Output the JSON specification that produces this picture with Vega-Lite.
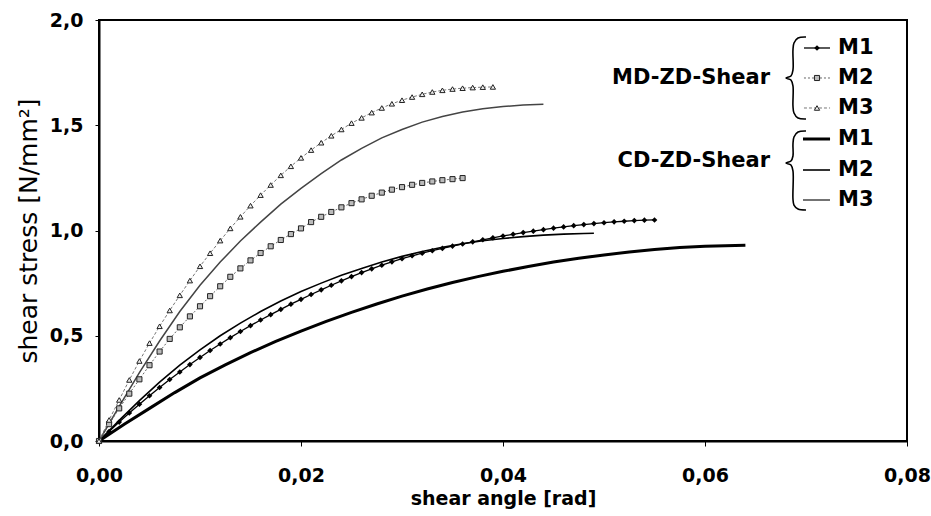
{
 "$schema": "https://vega.github.io/schema/vega-lite/v6.json",
 "width": 808, "height": 421,
 "autosize": {"type": "none"},
 "padding": {"left": 99, "top": 20, "right": 24, "bottom": 75},
 "background": "white",
 "config": {
  "view": {"stroke": "black", "strokeWidth": 2},
  "axis": {"labelFont": "DejaVu Sans", "labelFontWeight": "bold", "labelFontSize": 19, "labelColor": "black",
           "titleFont": "DejaVu Sans", "titleFontWeight": "bold", "titleFontSize": 19, "titleColor": "black",
           "grid": false, "domainColor": "black", "domainWidth": 2, "tickColor": "black", "tickWidth": 1}
 },
 "datasets": {
  "curves": [
   {"s":"MD-M1","p":"c","x":0,"y":0},{"s":"MD-M1","p":"c","x":0.001,"y":0.045},{"s":"MD-M1","p":"c","x":0.002,"y":0.09},{"s":"MD-M1","p":"c","x":0.003,"y":0.133},{"s":"MD-M1","p":"c","x":0.004,"y":0.175},{"s":"MD-M1","p":"c","x":0.005,"y":0.215},{"s":"MD-M1","p":"c","x":0.006,"y":0.254},{"s":"MD-M1","p":"c","x":0.007,"y":0.292},{"s":"MD-M1","p":"c","x":0.008,"y":0.328},{"s":"MD-M1","p":"c","x":0.009,"y":0.363},{"s":"MD-M1","p":"c","x":0.010,"y":0.397},{"s":"MD-M1","p":"c","x":0.011,"y":0.43},{"s":"MD-M1","p":"c","x":0.012,"y":0.461},{"s":"MD-M1","p":"c","x":0.013,"y":0.491},{"s":"MD-M1","p":"c","x":0.014,"y":0.52},{"s":"MD-M1","p":"c","x":0.015,"y":0.548},{"s":"MD-M1","p":"c","x":0.016,"y":0.575},{"s":"MD-M1","p":"c","x":0.017,"y":0.6},{"s":"MD-M1","p":"c","x":0.018,"y":0.625},{"s":"MD-M1","p":"c","x":0.019,"y":0.65},{"s":"MD-M1","p":"c","x":0.020,"y":0.673},{"s":"MD-M1","p":"c","x":0.021,"y":0.696},{"s":"MD-M1","p":"c","x":0.022,"y":0.718},{"s":"MD-M1","p":"c","x":0.023,"y":0.74},{"s":"MD-M1","p":"c","x":0.024,"y":0.761},{"s":"MD-M1","p":"c","x":0.025,"y":0.781},{"s":"MD-M1","p":"c","x":0.026,"y":0.8},{"s":"MD-M1","p":"c","x":0.027,"y":0.818},{"s":"MD-M1","p":"c","x":0.028,"y":0.835},{"s":"MD-M1","p":"c","x":0.029,"y":0.851},{"s":"MD-M1","p":"c","x":0.030,"y":0.866},{"s":"MD-M1","p":"c","x":0.031,"y":0.88},{"s":"MD-M1","p":"c","x":0.032,"y":0.892},{"s":"MD-M1","p":"c","x":0.033,"y":0.904},{"s":"MD-M1","p":"c","x":0.034,"y":0.915},{"s":"MD-M1","p":"c","x":0.035,"y":0.926},{"s":"MD-M1","p":"c","x":0.036,"y":0.936},{"s":"MD-M1","p":"c","x":0.037,"y":0.946},{"s":"MD-M1","p":"c","x":0.038,"y":0.956},{"s":"MD-M1","p":"c","x":0.039,"y":0.965},{"s":"MD-M1","p":"c","x":0.040,"y":0.974},{"s":"MD-M1","p":"c","x":0.041,"y":0.982},{"s":"MD-M1","p":"c","x":0.042,"y":0.99},{"s":"MD-M1","p":"c","x":0.043,"y":0.997},{"s":"MD-M1","p":"c","x":0.044,"y":1.004},{"s":"MD-M1","p":"c","x":0.045,"y":1.011},{"s":"MD-M1","p":"c","x":0.046,"y":1.017},{"s":"MD-M1","p":"c","x":0.047,"y":1.023},{"s":"MD-M1","p":"c","x":0.048,"y":1.028},{"s":"MD-M1","p":"c","x":0.049,"y":1.033},{"s":"MD-M1","p":"c","x":0.050,"y":1.037},{"s":"MD-M1","p":"c","x":0.051,"y":1.041},{"s":"MD-M1","p":"c","x":0.052,"y":1.044},{"s":"MD-M1","p":"c","x":0.053,"y":1.047},{"s":"MD-M1","p":"c","x":0.054,"y":1.049},{"s":"MD-M1","p":"c","x":0.055,"y":1.05},

   {"s":"MD-M2","p":"c","x":0,"y":0},{"s":"MD-M2","p":"c","x":0.001,"y":0.08},{"s":"MD-M2","p":"c","x":0.002,"y":0.155},{"s":"MD-M2","p":"c","x":0.003,"y":0.225},{"s":"MD-M2","p":"c","x":0.004,"y":0.293},{"s":"MD-M2","p":"c","x":0.005,"y":0.36},{"s":"MD-M2","p":"c","x":0.006,"y":0.425},{"s":"MD-M2","p":"c","x":0.007,"y":0.485},{"s":"MD-M2","p":"c","x":0.008,"y":0.54},{"s":"MD-M2","p":"c","x":0.009,"y":0.592},{"s":"MD-M2","p":"c","x":0.010,"y":0.64},{"s":"MD-M2","p":"c","x":0.011,"y":0.688},{"s":"MD-M2","p":"c","x":0.012,"y":0.735},{"s":"MD-M2","p":"c","x":0.013,"y":0.78},{"s":"MD-M2","p":"c","x":0.014,"y":0.82},{"s":"MD-M2","p":"c","x":0.015,"y":0.858},{"s":"MD-M2","p":"c","x":0.016,"y":0.893},{"s":"MD-M2","p":"c","x":0.017,"y":0.925},{"s":"MD-M2","p":"c","x":0.018,"y":0.955},{"s":"MD-M2","p":"c","x":0.019,"y":0.983},{"s":"MD-M2","p":"c","x":0.020,"y":1.01},{"s":"MD-M2","p":"c","x":0.021,"y":1.04},{"s":"MD-M2","p":"c","x":0.022,"y":1.065},{"s":"MD-M2","p":"c","x":0.023,"y":1.088},{"s":"MD-M2","p":"c","x":0.024,"y":1.11},{"s":"MD-M2","p":"c","x":0.025,"y":1.13},{"s":"MD-M2","p":"c","x":0.026,"y":1.148},{"s":"MD-M2","p":"c","x":0.027,"y":1.165},{"s":"MD-M2","p":"c","x":0.028,"y":1.18},{"s":"MD-M2","p":"c","x":0.029,"y":1.194},{"s":"MD-M2","p":"c","x":0.030,"y":1.206},{"s":"MD-M2","p":"c","x":0.031,"y":1.217},{"s":"MD-M2","p":"c","x":0.032,"y":1.226},{"s":"MD-M2","p":"c","x":0.033,"y":1.233},{"s":"MD-M2","p":"c","x":0.034,"y":1.239},{"s":"MD-M2","p":"c","x":0.035,"y":1.244},{"s":"MD-M2","p":"c","x":0.036,"y":1.249},

   {"s":"MD-M3","p":"c","x":0,"y":0},{"s":"MD-M3","p":"c","x":0.001,"y":0.1},{"s":"MD-M3","p":"c","x":0.002,"y":0.195},{"s":"MD-M3","p":"c","x":0.003,"y":0.29},{"s":"MD-M3","p":"c","x":0.004,"y":0.38},{"s":"MD-M3","p":"c","x":0.005,"y":0.465},{"s":"MD-M3","p":"c","x":0.006,"y":0.545},{"s":"MD-M3","p":"c","x":0.007,"y":0.62},{"s":"MD-M3","p":"c","x":0.008,"y":0.692},{"s":"MD-M3","p":"c","x":0.009,"y":0.762},{"s":"MD-M3","p":"c","x":0.010,"y":0.83},{"s":"MD-M3","p":"c","x":0.011,"y":0.892},{"s":"MD-M3","p":"c","x":0.012,"y":0.952},{"s":"MD-M3","p":"c","x":0.013,"y":1.01},{"s":"MD-M3","p":"c","x":0.014,"y":1.065},{"s":"MD-M3","p":"c","x":0.015,"y":1.118},{"s":"MD-M3","p":"c","x":0.016,"y":1.168},{"s":"MD-M3","p":"c","x":0.017,"y":1.216},{"s":"MD-M3","p":"c","x":0.018,"y":1.262},{"s":"MD-M3","p":"c","x":0.019,"y":1.305},{"s":"MD-M3","p":"c","x":0.020,"y":1.345},{"s":"MD-M3","p":"c","x":0.021,"y":1.382},{"s":"MD-M3","p":"c","x":0.022,"y":1.417},{"s":"MD-M3","p":"c","x":0.023,"y":1.45},{"s":"MD-M3","p":"c","x":0.024,"y":1.48},{"s":"MD-M3","p":"c","x":0.025,"y":1.51},{"s":"MD-M3","p":"c","x":0.026,"y":1.535},{"s":"MD-M3","p":"c","x":0.027,"y":1.56},{"s":"MD-M3","p":"c","x":0.028,"y":1.582},{"s":"MD-M3","p":"c","x":0.029,"y":1.602},{"s":"MD-M3","p":"c","x":0.030,"y":1.619},{"s":"MD-M3","p":"c","x":0.031,"y":1.634},{"s":"MD-M3","p":"c","x":0.032,"y":1.647},{"s":"MD-M3","p":"c","x":0.033,"y":1.658},{"s":"MD-M3","p":"c","x":0.034,"y":1.666},{"s":"MD-M3","p":"c","x":0.035,"y":1.672},{"s":"MD-M3","p":"c","x":0.036,"y":1.676},{"s":"MD-M3","p":"c","x":0.037,"y":1.679},{"s":"MD-M3","p":"c","x":0.038,"y":1.681},{"s":"MD-M3","p":"c","x":0.039,"y":1.682},

   {"s":"CD-M1","p":"c","x":0,"y":0},{"s":"CD-M1","p":"c","x":0.0025,"y":0.08},{"s":"CD-M1","p":"c","x":0.005,"y":0.155},{"s":"CD-M1","p":"c","x":0.0075,"y":0.23},{"s":"CD-M1","p":"c","x":0.01,"y":0.3},{"s":"CD-M1","p":"c","x":0.0125,"y":0.362},{"s":"CD-M1","p":"c","x":0.015,"y":0.42},{"s":"CD-M1","p":"c","x":0.0175,"y":0.473},{"s":"CD-M1","p":"c","x":0.02,"y":0.522},{"s":"CD-M1","p":"c","x":0.0225,"y":0.568},{"s":"CD-M1","p":"c","x":0.025,"y":0.611},{"s":"CD-M1","p":"c","x":0.0275,"y":0.651},{"s":"CD-M1","p":"c","x":0.03,"y":0.688},{"s":"CD-M1","p":"c","x":0.0325,"y":0.722},{"s":"CD-M1","p":"c","x":0.035,"y":0.753},{"s":"CD-M1","p":"c","x":0.0375,"y":0.781},{"s":"CD-M1","p":"c","x":0.04,"y":0.806},{"s":"CD-M1","p":"c","x":0.0425,"y":0.829},{"s":"CD-M1","p":"c","x":0.045,"y":0.85},{"s":"CD-M1","p":"c","x":0.0475,"y":0.868},{"s":"CD-M1","p":"c","x":0.05,"y":0.884},{"s":"CD-M1","p":"c","x":0.0525,"y":0.898},{"s":"CD-M1","p":"c","x":0.055,"y":0.91},{"s":"CD-M1","p":"c","x":0.0575,"y":0.919},{"s":"CD-M1","p":"c","x":0.06,"y":0.925},{"s":"CD-M1","p":"c","x":0.062,"y":0.928},{"s":"CD-M1","p":"c","x":0.064,"y":0.93},

   {"s":"CD-M2","p":"c","x":0,"y":0},{"s":"CD-M2","p":"c","x":0.002,"y":0.098},{"s":"CD-M2","p":"c","x":0.004,"y":0.192},{"s":"CD-M2","p":"c","x":0.006,"y":0.28},{"s":"CD-M2","p":"c","x":0.008,"y":0.36},{"s":"CD-M2","p":"c","x":0.01,"y":0.433},{"s":"CD-M2","p":"c","x":0.012,"y":0.5},{"s":"CD-M2","p":"c","x":0.014,"y":0.56},{"s":"CD-M2","p":"c","x":0.016,"y":0.615},{"s":"CD-M2","p":"c","x":0.018,"y":0.665},{"s":"CD-M2","p":"c","x":0.02,"y":0.71},{"s":"CD-M2","p":"c","x":0.022,"y":0.75},{"s":"CD-M2","p":"c","x":0.024,"y":0.787},{"s":"CD-M2","p":"c","x":0.026,"y":0.82},{"s":"CD-M2","p":"c","x":0.028,"y":0.85},{"s":"CD-M2","p":"c","x":0.03,"y":0.877},{"s":"CD-M2","p":"c","x":0.032,"y":0.9},{"s":"CD-M2","p":"c","x":0.034,"y":0.92},{"s":"CD-M2","p":"c","x":0.036,"y":0.937},{"s":"CD-M2","p":"c","x":0.038,"y":0.951},{"s":"CD-M2","p":"c","x":0.04,"y":0.962},{"s":"CD-M2","p":"c","x":0.042,"y":0.971},{"s":"CD-M2","p":"c","x":0.044,"y":0.978},{"s":"CD-M2","p":"c","x":0.046,"y":0.983},{"s":"CD-M2","p":"c","x":0.048,"y":0.986},{"s":"CD-M2","p":"c","x":0.049,"y":0.987},

   {"s":"CD-M3","p":"c","x":0,"y":0},{"s":"CD-M3","p":"c","x":0.002,"y":0.165},{"s":"CD-M3","p":"c","x":0.004,"y":0.325},{"s":"CD-M3","p":"c","x":0.006,"y":0.475},{"s":"CD-M3","p":"c","x":0.008,"y":0.615},{"s":"CD-M3","p":"c","x":0.01,"y":0.74},{"s":"CD-M3","p":"c","x":0.012,"y":0.85},{"s":"CD-M3","p":"c","x":0.014,"y":0.95},{"s":"CD-M3","p":"c","x":0.016,"y":1.04},{"s":"CD-M3","p":"c","x":0.018,"y":1.125},{"s":"CD-M3","p":"c","x":0.02,"y":1.2},{"s":"CD-M3","p":"c","x":0.022,"y":1.27},{"s":"CD-M3","p":"c","x":0.024,"y":1.335},{"s":"CD-M3","p":"c","x":0.026,"y":1.39},{"s":"CD-M3","p":"c","x":0.028,"y":1.44},{"s":"CD-M3","p":"c","x":0.03,"y":1.48},{"s":"CD-M3","p":"c","x":0.032,"y":1.515},{"s":"CD-M3","p":"c","x":0.034,"y":1.542},{"s":"CD-M3","p":"c","x":0.036,"y":1.563},{"s":"CD-M3","p":"c","x":0.038,"y":1.578},{"s":"CD-M3","p":"c","x":0.04,"y":1.589},{"s":"CD-M3","p":"c","x":0.042,"y":1.596},{"s":"CD-M3","p":"c","x":0.044,"y":1.6},

   {"s":"MD-M1","p":"l","x":0.0698,"y":1.867},{"s":"MD-M1","p":"l","x":0.07238,"y":1.867},{"s":"MD-M1","p":"m","x":0.07109,"y":1.867},
   {"s":"MD-M2","p":"l","x":0.0698,"y":1.7245},{"s":"MD-M2","p":"l","x":0.07238,"y":1.7245},{"s":"MD-M2","p":"m","x":0.07109,"y":1.7245},
   {"s":"MD-M3","p":"l","x":0.0698,"y":1.582},{"s":"MD-M3","p":"l","x":0.07238,"y":1.582},{"s":"MD-M3","p":"m","x":0.07109,"y":1.582},
   {"s":"CD-M1","p":"l","x":0.0697,"y":1.4347},{"s":"CD-M1","p":"l","x":0.07238,"y":1.4347},
   {"s":"CD-M2","p":"l","x":0.0697,"y":1.2874},{"s":"CD-M2","p":"l","x":0.07238,"y":1.2874},
   {"s":"CD-M3","p":"l","x":0.0697,"y":1.1449},{"s":"CD-M3","p":"l","x":0.07238,"y":1.1449}
  ],
  "brace": [
   {"g":1,"o":1,"x":0.0700,"y":1.9192},{"g":1,"o":2,"x":0.06921,"y":1.9145},{"g":1,"o":3,"x":0.06881,"y":1.8907},{"g":1,"o":4,"x":0.06871,"y":1.8575},{"g":1,"o":5,"x":0.06871,"y":1.7625},{"g":1,"o":6,"x":0.06851,"y":1.734},{"g":1,"o":7,"x":0.06802,"y":1.7245},{"g":1,"o":8,"x":0.06851,"y":1.715},{"g":1,"o":9,"x":0.06871,"y":1.6865},{"g":1,"o":10,"x":0.06871,"y":1.5914},{"g":1,"o":11,"x":0.06881,"y":1.5582},{"g":1,"o":12,"x":0.06921,"y":1.5344},{"g":1,"o":13,"x":0.0700,"y":1.5297},
   {"g":2,"o":1,"x":0.0700,"y":1.4727},{"g":2,"o":2,"x":0.06921,"y":1.4679},{"g":2,"o":3,"x":0.06881,"y":1.4442},{"g":2,"o":4,"x":0.06871,"y":1.4109},{"g":2,"o":5,"x":0.06871,"y":1.3539},{"g":2,"o":6,"x":0.06851,"y":1.3302},{"g":2,"o":7,"x":0.06802,"y":1.3207},{"g":2,"o":8,"x":0.06851,"y":1.3112},{"g":2,"o":9,"x":0.06871,"y":1.2827},{"g":2,"o":10,"x":0.06871,"y":1.1496},{"g":2,"o":11,"x":0.06881,"y":1.1211},{"g":2,"o":12,"x":0.06921,"y":1.1021},{"g":2,"o":13,"x":0.0700,"y":1.0974}
  ],
  "labels": [
   {"t":"MD-ZD-Shear","a":"r","x":0.06644,"y":1.7245},
   {"t":"CD-ZD-Shear","a":"r","x":0.06644,"y":1.330},
   {"t":"M1","a":"l","x":0.07317,"y":1.867},
   {"t":"M2","a":"l","x":0.07317,"y":1.7245},
   {"t":"M3","a":"l","x":0.07317,"y":1.582},
   {"t":"M1","a":"l","x":0.07317,"y":1.4347},
   {"t":"M2","a":"l","x":0.07317,"y":1.2874},
   {"t":"M3","a":"l","x":0.07317,"y":1.1449}
  ]
 },
 "encoding": {
  "x": {"field": "x", "type": "quantitative", "scale": {"domain": [0, 0.08], "nice": false},
        "axis": {"values": [0, 0.02, 0.04, 0.06, 0.08], "labelExpr": "replace(format(datum.value, '.2f'), '.', ',')",
                 "title": "shear angle [rad]", "tickSize": 5, "labelPadding": 20, "titlePadding": 4, "labelFlush": false}},
  "y": {"field": "y", "type": "quantitative", "scale": {"domain": [0, 2], "nice": false},
        "axis": {"values": [0, 0.5, 1, 1.5, 2], "labelExpr": "replace(format(datum.value, '.1f'), '.', ',')",
                 "title": "shear stress [N/mm²]", "titleFontWeight": "normal", "titleFontSize": 25,
                 "tickSize": 4, "labelPadding": 12, "titlePadding": 8, "labelFlush": false}}
 },
 "layer": [
  {"data": {"name": "curves"}, "transform": [{"filter": "datum.s == 'CD-M1'"}],
   "mark": {"type": "line", "color": "black", "strokeWidth": 3}, "encoding": {"detail": {"field": "p"}}},
  {"data": {"name": "curves"}, "transform": [{"filter": "datum.s == 'CD-M2'"}],
   "mark": {"type": "line", "color": "black", "strokeWidth": 1.6}, "encoding": {"detail": {"field": "p"}}},
  {"data": {"name": "curves"}, "transform": [{"filter": "datum.s == 'CD-M3'"}],
   "mark": {"type": "line", "color": "#444", "strokeWidth": 1.5}, "encoding": {"detail": {"field": "p"}}},
  {"data": {"name": "curves"}, "transform": [{"filter": "datum.s == 'MD-M1'"}],
   "mark": {"type": "line", "color": "black", "strokeWidth": 1.3}, "encoding": {"detail": {"field": "p"}}},
  {"data": {"name": "curves"}, "transform": [{"filter": "datum.s == 'MD-M1' && datum.p != 'l'"}],
   "mark": {"type": "point", "shape": "diamond", "filled": true, "color": "black", "opacity": 1, "size": 32}},
  {"data": {"name": "curves"}, "transform": [{"filter": "datum.s == 'MD-M2'"}],
   "mark": {"type": "line", "color": "#666", "strokeWidth": 1, "strokeDash": [2, 2]}, "encoding": {"detail": {"field": "p"}}},
  {"data": {"name": "curves"}, "transform": [{"filter": "datum.s == 'MD-M2' && datum.p != 'l'"}],
   "mark": {"type": "point", "shape": "square", "filled": true, "fill": "#bbb", "stroke": "#222", "strokeWidth": 1, "opacity": 1, "size": 26}},
  {"data": {"name": "curves"}, "transform": [{"filter": "datum.s == 'MD-M3'"}],
   "mark": {"type": "line", "color": "#777", "strokeWidth": 1, "strokeDash": [3, 2]}, "encoding": {"detail": {"field": "p"}}},
  {"data": {"name": "curves"}, "transform": [{"filter": "datum.s == 'MD-M3' && datum.p != 'l'"}],
   "mark": {"type": "point", "shape": "triangle-up", "filled": true, "fill": "#eee", "stroke": "#222", "strokeWidth": 1, "opacity": 1, "size": 28}},
  {"data": {"name": "brace"},
   "mark": {"type": "line", "color": "black", "strokeWidth": 1.6, "interpolate": "catmull-rom"},
   "encoding": {"detail": {"field": "g"}, "order": {"field": "o", "type": "quantitative"}}},
  {"data": {"name": "labels"}, "transform": [{"filter": "datum.a == 'r'"}],
   "mark": {"type": "text", "align": "right", "baseline": "middle", "font": "DejaVu Sans", "fontWeight": "bold", "fontSize": 21, "color": "black"},
   "encoding": {"text": {"field": "t"}}},
  {"data": {"name": "labels"}, "transform": [{"filter": "datum.a == 'l'"}],
   "mark": {"type": "text", "align": "left", "baseline": "middle", "font": "DejaVu Sans", "fontWeight": "bold", "fontSize": 21, "color": "black"},
   "encoding": {"text": {"field": "t"}}}
 ]
}
